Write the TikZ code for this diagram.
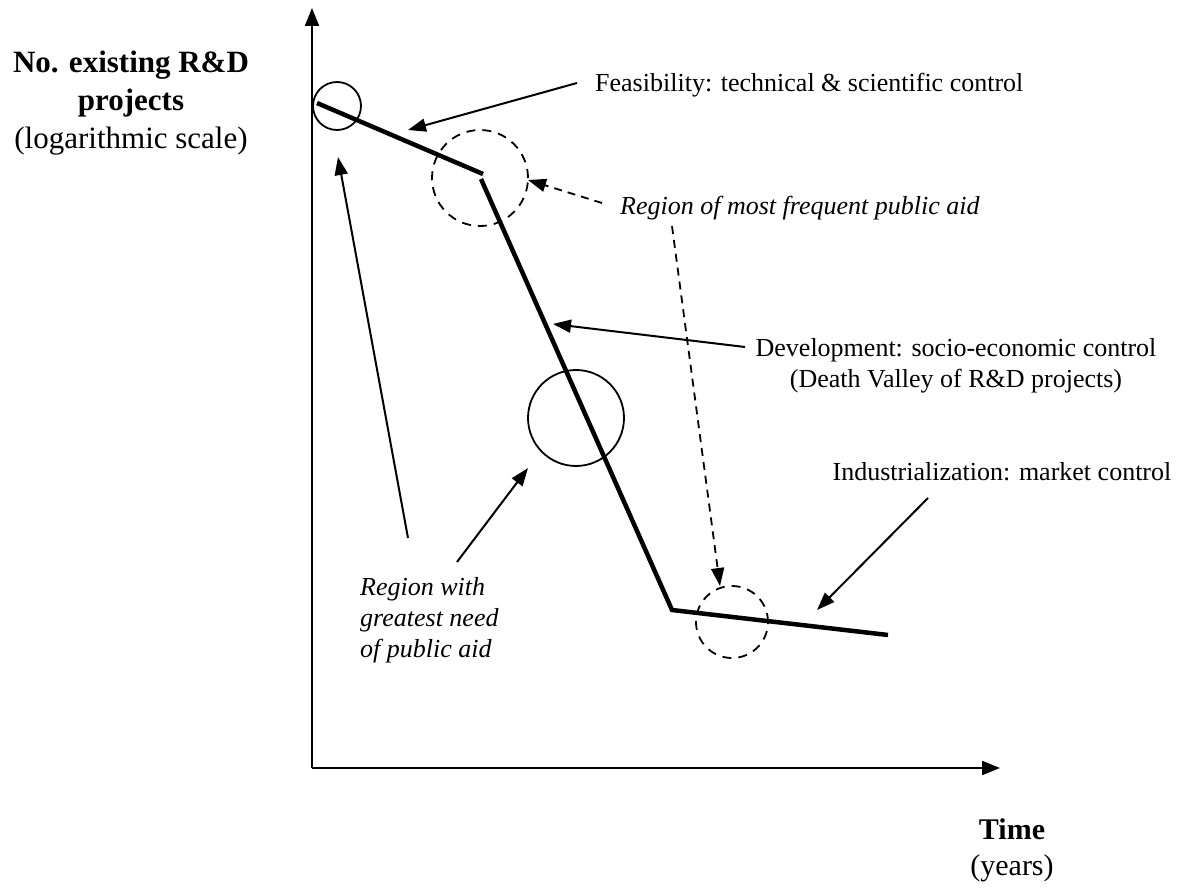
\documentclass[tikz,border=0pt]{standalone}
\usepackage{fontspec}
\setmainfont{Liberation Serif}
\usetikzlibrary{arrows.meta}
\begin{document}
\begin{tikzpicture}[x=1pt,y=-1pt,
  lbl/.style={inner sep=0pt, font=\fontsize{26}{31}\selectfont},
  ttl/.style={inner sep=0pt, align=center, font=\fontsize{31}{38}\selectfont},
  axisline/.style={line width=2pt, -{Triangle[length=18pt,width=14pt]}},
  pointer/.style={line width=2pt, -{Triangle[length=18pt,width=13pt]}},
  dpointer/.style={line width=1.8pt, dash pattern=on 8pt off 6pt, -{Triangle[length=18pt,width=13pt]}},
  trend/.style={line width=4.5pt, line join=miter},
  ring/.style={draw, circle, line width=1.8pt, inner sep=0pt, outer sep=0pt},
  dring/.style={ring, dash pattern=on 9pt off 7pt},
]
\useasboundingbox (0,0) rectangle (1184,888);

% axes
\coordinate (O) at (312,768);
\coordinate (ytop) at (312,8);
\coordinate (xend) at (1000,768);
\draw[axisline] (O) -- (ytop);
\draw[axisline] (O) -- (xend);

% axis titles
\node[ttl] (ytitle) at (131,103) {\textbf{No. existing R\&D}\\\textbf{projects}\\(logarithmic scale)};
\node[ttl, font=\fontsize{30}{36}\selectfont] (xtitle) at (1012,850) {\textbf{Time}\\(years)};

% number of projects over time
\coordinate (p0) at (317,103);
\coordinate (p1) at (483,174);
\coordinate (p2) at (481,179);
\coordinate (p3) at (672,610);
\coordinate (p4) at (888,635);
\draw[trend] (p0) -- (p1);
\draw[trend] (p2) -- (p3) -- (p4);

% marked regions
\node[ring, minimum size=48pt] (c1) at (337,106) {};
\node[dring, minimum size=96pt] (c2) at (480,178) {};
\node[ring, minimum size=96pt] (c3) at (576,418) {};
\node[dring, minimum size=72pt] (c4) at (732,622) {};

% phase labels
\node[lbl, anchor=west] (feas) at (595,85) {Feasibility: technical \& scientific control};
\node[lbl, anchor=west, font=\fontsize{26}{31}\selectfont\itshape] (freq) at (620,208) {Region of most frequent public aid};
\node[lbl, align=center] (dev) at (956,366) {Development: socio-economic control\\(Death Valley of R\&D projects)};
\node[lbl] (ind) at (1002,472) {Industrialization: market control};
\node[lbl, align=left, anchor=west, font=\fontsize{26}{31}\selectfont\itshape] (need) at (360,620) {Region with\\greatest need\\of public aid};

% pointers
\coordinate (feasT) at (577,83);   \coordinate (feasH) at (408,130);
\coordinate (freqT) at (602,203);  \coordinate (freqH) at (528,180);
\coordinate (freqT2) at (672,226); \coordinate (freqH2) at (720,586);
\coordinate (devT) at (745,347);   \coordinate (devH) at (553,324);
\coordinate (indT) at (928,498);   \coordinate (indH) at (817,610);
\coordinate (needT) at (408,538);  \coordinate (needH) at (338,157);
\coordinate (needT2) at (457,562); \coordinate (needH2) at (528,468);

\draw[pointer] (feasT) -- (feasH);
\draw[dpointer] (freqT) -- (freqH);
\draw[dpointer] (freqT2) -- (freqH2);
\draw[pointer] (devT) -- (devH);
\draw[pointer] (indT) -- (indH);
\draw[pointer] (needT) -- (needH);
\draw[pointer] (needT2) -- (needH2);
\end{tikzpicture}
\end{document}
